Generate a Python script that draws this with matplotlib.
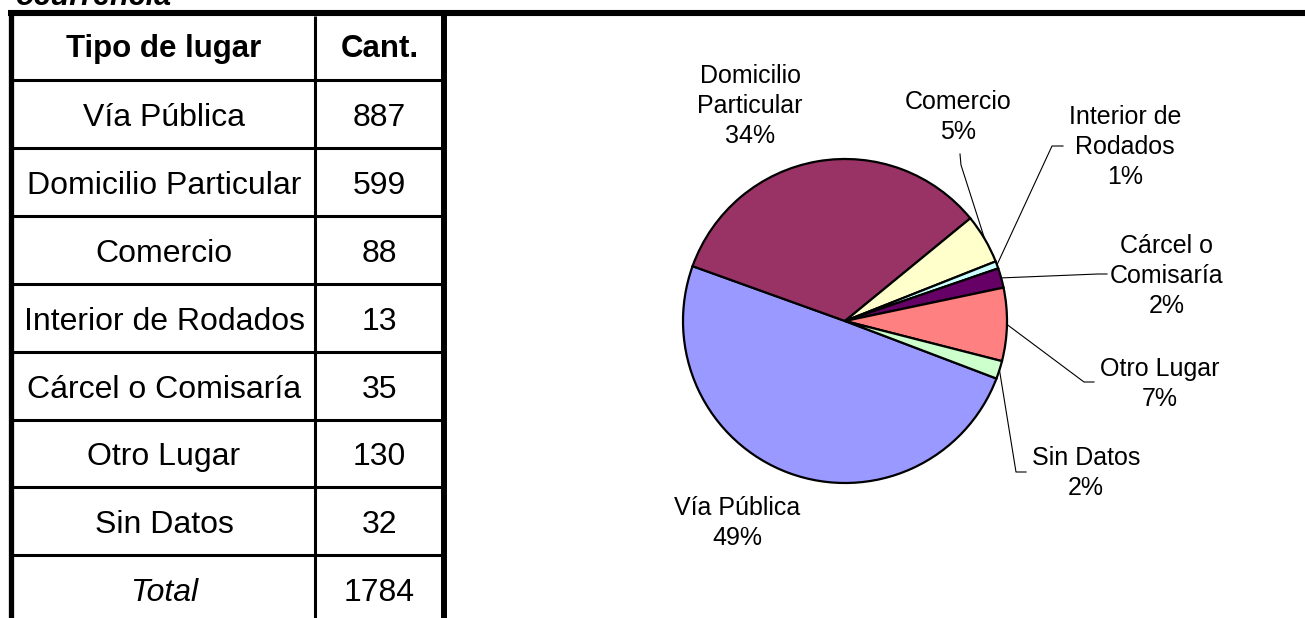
""" Lugar de ocurrencia: tabla y grafico de torta """
import math
import matplotlib.pyplot as plt

# Data
encabezados = ["Tipo de lugar", "Cant."]
lugares = ["Vía Pública", "Domicilio Particular", "Comercio", "Interior de Rodados",
           "Cárcel o Comisaría", "Otro Lugar", "Sin Datos"]
cantidades = [887, 599, 88, 13, 35, 130, 32]
etiquetas_torta = ["Vía Pública", "Domicilio\nParticular", "Comercio", "Interior de\nRodados",
                   "Cárcel o\nComisaría", "Otro Lugar", "Sin Datos"]
porcentajes = [49, 34, 5, 1, 2, 7, 2]
titulo = "ocurrencia"

colores = ["#9999FF", "#993366", "#FFFFCC", "#CCFFFF", "#660066", "#FF8080", "#CCFFCC"]

# Layout (pixels, measured from the top-left corner)
W, H = 1305, 618
FONT = "Liberation Sans"
label_pos = [(737, 523), (750, 106), (958, 117), (1125, 147), (1167, 276), (1160, 384), (1086, 473)]
leaders = [None, None,
           [(961, 165), (960, 154)],
           [(1052, 146), (1063, 146)],
           [(1098, 274), (1107, 274)],
           [(1084, 382), (1094, 382)],
           [(1016, 472), (1026, 472)]]


def y(py):
    return H - py


def draw_table(ax):
    x_left, x_sep, x_right = 10.5, 315, 444
    first_line, row_h = 80, 67.9

    # borders
    ax.plot([8, W], [y(13), y(13)], color='black', lw=4.4, solid_capstyle='butt')
    ax.plot([x_left, x_left], [y(10), y(H)], color='black', lw=3.8, solid_capstyle='butt')
    ax.plot([x_right, x_right], [y(10), y(H)], color='black', lw=4.3, solid_capstyle='butt')
    ax.plot([x_sep, x_sep], [y(16), y(H)], color='black', lw=2.2, solid_capstyle='butt')
    for k in range(len(lugares) + 1):
        yl = first_line + row_h * k
        ax.plot([x_left, x_right], [y(yl), y(yl)], color='black', lw=2.2, solid_capstyle='butt')

    c1 = (13 + x_sep) / 2
    c2 = (x_sep + x_right) / 2
    yh = (16 + first_line) / 2 + 1
    ax.text(c1, y(yh), encabezados[0], ha='center', va='center', fontsize=22.5,
            fontweight='bold', family=FONT)
    ax.text(c2, y(yh), encabezados[1], ha='center', va='center', fontsize=22.5,
            fontweight='bold', family=FONT)

    filas = list(zip(lugares, cantidades)) + [("Total", sum(cantidades))]
    for i, (lugar, cant) in enumerate(filas):
        yc = first_line + row_h * (i + 0.5) + 4
        estilo = 'italic' if lugar == "Total" else 'normal'
        ax.text(c1, y(yc), lugar, ha='center', va='center', fontsize=23,
                style=estilo, family=FONT)
        ax.text(c2, y(yc), str(cant), ha='center', va='center', fontsize=23, family=FONT)


def draw_pie(ax):
    cx, cy, r = 845, y(321), 162
    start = -20.8
    wedges, _ = ax.pie(cantidades, colors=colores, startangle=start, counterclock=False,
                       center=(cx, cy), radius=r, frame=True,
                       wedgeprops=dict(edgecolor='black', linewidth=1.6))

    for w, etiqueta, pct, (lx, ly), bends in zip(wedges, etiquetas_torta, porcentajes,
                                                  label_pos, leaders):
        ax.text(lx, y(ly), f"{etiqueta}\n{pct}%", ha='center', va='center', fontsize=18,
                family=FONT, linespacing=1.33)
        if bends is None:
            continue
        mid = math.radians((w.theta1 + w.theta2) / 2)
        xs = [cx + r * math.cos(mid)] + [p[0] for p in bends]
        ys = [cy + r * math.sin(mid)] + [y(p[1]) for p in bends]
        ax.plot(xs, ys, color='black', lw=0.8)


def main():
    fig = plt.figure(figsize=(W / 100, H / 100), dpi=100)
    ax = fig.add_axes([0, 0, 1, 1])

    draw_pie(ax)
    draw_table(ax)
    ax.text(15, y(5), titulo, ha='left', va='baseline', fontsize=22, fontweight='bold',
            style='italic', family=FONT)

    ax.set_xlim(0, W)
    ax.set_ylim(0, H)
    ax.set_aspect('auto')
    ax.axis('off')
    fig.savefig('out.png', dpi=100)


if __name__ == '__main__':
    main()
